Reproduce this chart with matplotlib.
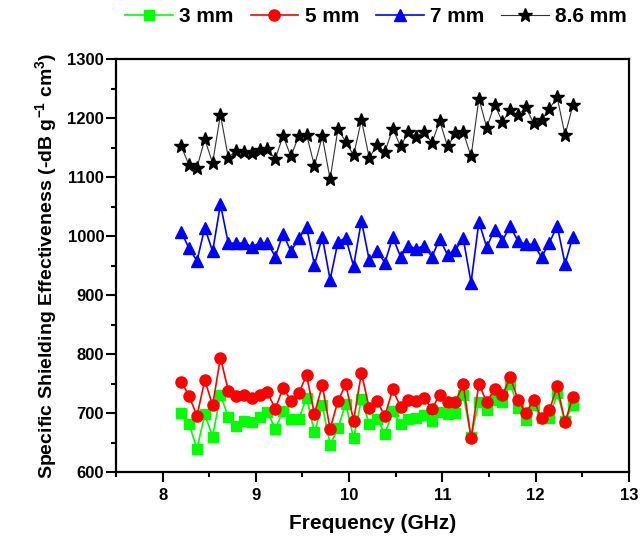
import numpy as np
import matplotlib
matplotlib.use('Agg')
import matplotlib.pyplot as plt
from matplotlib.ticker import MultipleLocator

plt.rcParams['font.family'] = ['Liberation Sans', 'DejaVu Sans']
plt.rcParams['font.weight'] = 'bold'
plt.rcParams['mathtext.fontset'] = 'custom'
plt.rcParams['mathtext.rm'] = 'Liberation Sans:bold'
plt.rcParams['mathtext.bf'] = 'Liberation Sans:bold'
plt.rcParams['mathtext.default'] = 'bf'

# frequency points, 8.2 - 12.4 GHz
freq = np.linspace(8.2, 12.4, 51)

sse_3mm = [700, 681, 639, 698, 660, 731, 693, 678, 686, 684,
           694, 702, 673, 703, 690, 690, 726, 667, 713, 646,
           674, 716, 657, 723, 682, 690, 665, 703, 682, 690,
           692, 696, 687, 701, 698, 700, 731, 660, 718, 705,
           722, 718, 750, 709, 689, 713, 691, 692, 734, 686,
           714]

sse_5mm = [753, 729, 695, 756, 713, 794, 738, 729, 731, 725,
           731, 735, 707, 743, 721, 734, 764, 698, 747, 673,
           720, 749, 687, 768, 708, 720, 695, 740, 710, 722,
           720, 725, 707, 731, 718, 719, 749, 657, 750, 718,
           741, 730, 761, 722, 700, 722, 691, 705, 745, 685,
           727]

sse_7mm = [1007, 979, 958, 1014, 974, 1054, 988, 988, 988, 982,
           988, 989, 965, 1004, 974, 996, 1015, 951, 999, 926,
           990, 997, 949, 1026, 959, 974, 955, 998, 965, 984,
           978, 984, 965, 995, 968, 977, 996, 921, 1024, 981,
           1011, 992, 1017, 991, 986, 986, 964, 989, 1017, 953,
           999]

sse_86mm = [1152, 1120, 1116, 1164, 1124, 1206, 1133, 1145, 1143, 1141,
            1146, 1147, 1131, 1170, 1135, 1170, 1172, 1119, 1169, 1097,
            1181, 1160, 1137, 1197, 1133, 1154, 1143, 1182, 1152, 1177,
            1168, 1177, 1158, 1195, 1152, 1174, 1176, 1135, 1233, 1184,
            1223, 1194, 1213, 1205, 1218, 1191, 1197, 1216, 1235, 1171,
            1222]

labels = ['3 mm', '5 mm', '7 mm', '8.6 mm']

fig = plt.figure(figsize=(6.41, 5.39), dpi=100)
ax = fig.add_axes([0.181, 0.1243, 0.8, 0.766])

ax.plot(freq, sse_3mm, color='#00ff00', lw=1.2, marker='s', ms=7, mec='#00ff00', label=labels[0])
ax.plot(freq, sse_5mm, color='#ff0000', lw=1.2, marker='o', ms=8, mec='#ff0000', label=labels[1])
ax.plot(freq, sse_7mm, color='#0000ff', lw=1.2, marker='^', ms=9, mec='#0000ff', label=labels[2])
ax.plot(freq, sse_86mm, color='#333333', lw=0.8, marker='*', ms=10, mfc='black', mec='black', label=labels[3])

ax.set_xlim(7.5, 13)
ax.set_ylim(600, 1300)
ax.xaxis.set_major_locator(MultipleLocator(1))
ax.xaxis.set_minor_locator(MultipleLocator(0.5))
ax.yaxis.set_major_locator(MultipleLocator(100))
ax.yaxis.set_minor_locator(MultipleLocator(50))

for s in ax.spines.values():
    s.set_linewidth(1.6)
ax.tick_params(which='major', direction='out', length=7, width=1.5, labelsize=12)
ax.tick_params(which='minor', direction='out', length=3.5, width=1.5)
ax.tick_params(axis='x', which='major', pad=4.5)
ax.tick_params(axis='y', which='major', pad=1.5)

ax.set_xlabel('Frequency (GHz)', fontsize=15, fontweight='bold', labelpad=8)
ax.set_ylabel(r'Specific Shielding Effectiveness (-dB g$^{-1}$ cm$^{3}$)',
              fontsize=14, fontweight='bold', labelpad=6)

fig.legend(loc='center', bbox_to_anchor=(376 / 641, 1 - 17 / 539), ncol=4, frameon=False,
           numpoints=1, handlelength=2.3, handletextpad=0.3, columnspacing=0.8,
           prop={'size': 15, 'weight': 'bold'})

plt.savefig('out.png', dpi=100)
plt.close('all')
